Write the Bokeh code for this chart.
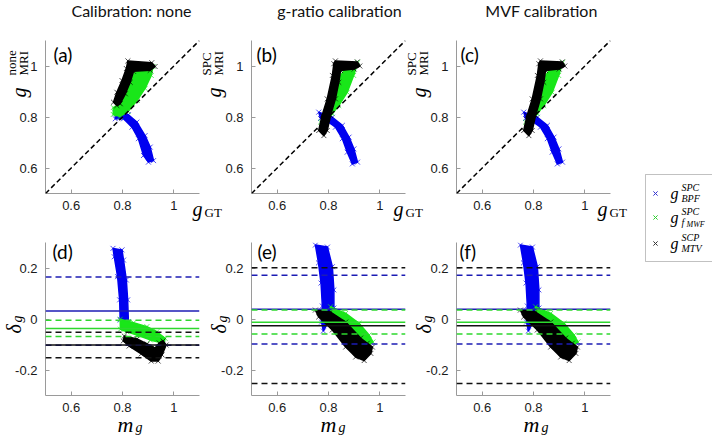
import math
from bokeh.plotting import figure
from bokeh.models import (Range1d, FixedTicker, PrintfTickFormatter, Label, Span,
                          Slope, BoxAnnotation)
from bokeh.layouts import row, column
from bokeh.embed import file_html
from bokeh.resources import INLINE

# ------------------------------------------------------------------ data
titles = ["Calibration: none", "g-ratio calibration", "MVF calibration"]
tags_top = ["(a)", "(b)", "(c)"]
tags_bottom = ["(d)", "(e)", "(f)"]
y_label_sup = ["none", "SPC", "SPC"]
x_range = (0.5, 1.1)
y_range_top = (0.5, 1.1)
y_range_bottom = (-0.3, 0.3)
x_ticks = [0.6, 0.8, 1.0]
x_tick_labels = ["0.6", "0.8", "1"]
y_ticks_top = [0.6, 0.8, 1.0]
y_tick_labels_top = ["0.6", "0.8", "1"]
y_ticks_bottom = [-0.2, 0.0, 0.2]
y_tick_labels_bottom = ["-0.2", "0", "0.2"]

# outlines of the marker clouds (g_GT, g_MRI) for the top row
a_blue_x = [0.772, 0.823, 0.856, 0.888, 0.908, 0.921, 0.901, 0.882, 0.862, 0.837, 0.804, 0.772]
a_blue_y = [0.816, 0.809, 0.780, 0.727, 0.682, 0.629, 0.623, 0.649, 0.715, 0.760, 0.793, 0.793]
a_green_x = [0.764, 0.791, 0.811, 0.830, 0.846, 0.908, 0.919, 0.912, 0.888, 0.857, 0.822, 0.791, 0.764]
a_green_y = [0.837, 0.849, 0.884, 0.931, 0.975, 0.990, 0.998, 0.963, 0.912, 0.865, 0.822, 0.802, 0.810]
a_black_x = [0.821, 0.914, 0.927, 0.908, 0.843, 0.830, 0.811, 0.791, 0.778, 0.765, 0.778, 0.798, 0.815]
a_black_y = [1.020, 1.013, 0.998, 0.983, 0.979, 0.936, 0.891, 0.852, 0.845, 0.858, 0.897, 0.943, 0.990]

b_blue_x = [0.762, 0.815, 0.854, 0.880, 0.899, 0.913, 0.893, 0.873, 0.854, 0.827, 0.801, 0.769]
b_blue_y = [0.819, 0.799, 0.767, 0.721, 0.675, 0.623, 0.616, 0.662, 0.715, 0.760, 0.780, 0.794]
b_green_x = [0.769, 0.808, 0.831, 0.847, 0.867, 0.914, 0.898, 0.873, 0.840, 0.815, 0.788]
b_green_y = [0.780, 0.818, 0.884, 0.963, 0.990, 1.014, 0.963, 0.897, 0.845, 0.813, 0.780]
b_black_x = [0.827, 0.912, 0.922, 0.900, 0.847, 0.840, 0.827, 0.808, 0.795, 0.782, 0.762, 0.775, 0.795, 0.815, 0.821]
b_black_y = [1.020, 1.016, 1.000, 0.988, 0.982, 0.936, 0.871, 0.806, 0.747, 0.727, 0.747, 0.806, 0.871, 0.963, 1.009]

c_blue_x = [0.762, 0.815, 0.854, 0.880, 0.899, 0.913, 0.893, 0.873, 0.854, 0.827, 0.801, 0.769]
c_blue_y = [0.819, 0.799, 0.767, 0.721, 0.675, 0.623, 0.616, 0.662, 0.715, 0.760, 0.780, 0.794]
c_green_x = [0.769, 0.808, 0.831, 0.847, 0.867, 0.914, 0.898, 0.873, 0.840, 0.815, 0.788]
c_green_y = [0.780, 0.818, 0.884, 0.963, 0.990, 1.014, 0.963, 0.897, 0.845, 0.813, 0.780]
c_black_x = [0.827, 0.912, 0.922, 0.900, 0.847, 0.840, 0.827, 0.808, 0.795, 0.782, 0.762, 0.775, 0.795, 0.815, 0.821]
c_black_y = [1.020, 1.016, 1.000, 0.988, 0.982, 0.936, 0.871, 0.806, 0.747, 0.727, 0.747, 0.806, 0.871, 0.963, 1.009]

# outlines of the marker clouds (m_g, delta_g) for the bottom row
d_blue_x = [0.763, 0.798, 0.804, 0.815, 0.820, 0.823, 0.791, 0.789, 0.781, 0.768]
d_blue_y = [0.277, 0.271, 0.231, 0.153, 0.075, -0.011, -0.004, 0.075, 0.166, 0.244]
d_green_x = [0.791, 0.843, 0.895, 0.934, 0.966, 0.959, 0.908, 0.856, 0.817, 0.792]
d_green_y = [-0.001, -0.015, -0.030, -0.050, -0.076, -0.095, -0.082, -0.063, -0.050, -0.040]
d_black_x = [0.807, 0.857, 0.896, 0.927, 0.943, 0.958, 0.970, 0.954, 0.939, 0.912, 0.873, 0.826, 0.803]
d_black_y = [-0.067, -0.078, -0.098, -0.114, -0.094, -0.086, -0.102, -0.141, -0.165, -0.165, -0.137, -0.106, -0.086]

e_blue_x = [0.749, 0.796, 0.815, 0.821, 0.821, 0.808, 0.780, 0.773, 0.776, 0.771, 0.761]
e_blue_y = [0.290, 0.282, 0.205, 0.114, 0.043, 0.004, -0.047, -0.012, 0.051, 0.141, 0.220]
e_green_x = [0.808, 0.867, 0.919, 0.958, 0.973, 0.952, 0.906, 0.854, 0.815]
e_green_y = [0.048, 0.022, -0.017, -0.063, -0.090, -0.106, -0.069, -0.036, -0.011]
e_black_x = [0.749, 0.808, 0.867, 0.925, 0.951, 0.971, 0.965, 0.939, 0.906, 0.867, 0.815, 0.762]
e_black_y = [0.035, 0.027, -0.012, -0.075, -0.095, -0.110, -0.135, -0.163, -0.149, -0.110, -0.043, 0.008]

f_blue_x = [0.749, 0.796, 0.815, 0.821, 0.821, 0.808, 0.780, 0.773, 0.776, 0.771, 0.761]
f_blue_y = [0.290, 0.282, 0.205, 0.114, 0.043, 0.004, -0.047, -0.012, 0.051, 0.141, 0.220]
f_green_x = [0.808, 0.867, 0.919, 0.958, 0.973, 0.952, 0.906, 0.854, 0.815]
f_green_y = [0.048, 0.022, -0.017, -0.063, -0.090, -0.106, -0.069, -0.036, -0.011]
f_black_x = [0.749, 0.808, 0.867, 0.925, 0.951, 0.971, 0.965, 0.939, 0.906, 0.867, 0.815, 0.762]
f_black_y = [0.035, 0.027, -0.012, -0.075, -0.095, -0.110, -0.135, -0.163, -0.149, -0.110, -0.043, 0.008]

# Bland-Altman lines: mean, upper limit, lower limit (blue, green, black)
d_mean = [0.031, -0.037, -0.102]
d_upper = [0.165, -0.005, -0.052]
d_lower = [-0.103, -0.069, -0.152]
e_mean = [0.038, -0.013, -0.026]
e_upper = [0.172, 0.035, 0.201]
e_lower = [-0.098, -0.059, -0.253]
f_mean = [0.038, -0.013, -0.026]
f_upper = [0.172, 0.035, 0.201]
f_lower = [-0.098, -0.059, -0.253]

legend_sup = ["SPC", "SPC", "SCP"]
legend_sub = ["BPF", "f", "MTV"]
legend_subsub = ["", "MWF", ""]

# ------------------------------------------------------------------ style
FW, FH = 154, 153
W, H = 712, 438
CLOUD = ["#0000f0", "#19e619", "#000000"]
LINES = ["#1c1cb4", "#2ed82e", "#111111"]
LEG_MARK = ["#3030d0", "#30d030", "#333333"]
AXIS_GRAY = "#9a9a9a"
SERIF = "Liberation Serif"
SANS_T = "Lato"
DY = -5      # measured baseline correction of horizontal labels
RX, RY = -5, 5   # correction of rotated labels


def make_fig(fl, ft, cl, ct, cr, cb, yr, yticks, ylabels, mleft):
    p = figure(frame_width=FW, frame_height=FH,
               min_border_left=fl - cl, min_border_right=cr - (fl + FW),
               min_border_top=ft - ct, min_border_bottom=cb - (ft + FH),
               x_range=Range1d(*x_range), y_range=Range1d(*yr),
               toolbar_location=None, output_backend="svg",
               background_fill_color=None, border_fill_color=None,
               outline_line_color=None, margin=(0, 0, 0, mleft))
    p.grid.visible = False
    p.xaxis.ticker = FixedTicker(ticks=x_ticks)
    p.yaxis.ticker = FixedTicker(ticks=yticks)
    p.xaxis.major_label_overrides = dict(zip(x_ticks, x_tick_labels))
    p.yaxis.major_label_overrides = dict(zip(yticks, ylabels))
    for ax in (p.xaxis[0], p.yaxis[0]):
        ax.formatter = PrintfTickFormatter(format="%g")
        ax.axis_line_color = AXIS_GRAY
        ax.major_tick_line_color = AXIS_GRAY
        ax.major_tick_in = 4
        ax.major_tick_out = 0
        ax.minor_tick_line_color = None
        ax.major_label_text_font = "Liberation Sans"
        ax.major_label_text_font_size = "13px"
        ax.major_label_text_color = "#1a1a1a"
    p.xaxis.major_label_standoff = 7
    p.yaxis.major_label_standoff = 8
    return p


def clouds(p, xs_list, ys_list):
    for xs, ys, c in zip(xs_list, ys_list, CLOUD):
        p.patch(xs, ys, fill_color=c, line_color=c, line_width=1.5)
        p.scatter(xs, ys, marker="x", size=7, line_color=c, line_width=1, alpha=0.7)


# overlay figure for all free texts and the legend (units = pixels of the page)
ov = figure(frame_width=W, frame_height=H, min_border_left=0, min_border_right=0,
            min_border_top=0, min_border_bottom=0,
            x_range=Range1d(0, W), y_range=Range1d(H, 0),
            x_axis_location=None, y_axis_location=None,
            toolbar_location=None, output_backend="svg",
            background_fill_color=None, border_fill_color=None,
            outline_line_color=None, margin=(-436, 0, 0, 0))
ov.grid.visible = False


def put(px, py, text, size, font=SERIF, style="italic", rot=False,
        align="left", color="#000000"):
    if rot:
        x, y, ang = px + RX, py + RY, math.pi / 2
    else:
        x, y, ang = px, py + DY, 0.0
    ov.add_layout(Label(x=x, y=y, text=text, text_font=font,
                        text_font_size=f"{size}px", text_font_style=style,
                        angle=ang, text_align=align, text_baseline="alphabetic",
                        text_color=color))


frame_left = [45, 251, 456]
canvas_l = [0, 198, 403]
canvas_r = [223, 425, 629]
mlefts = [0, -25, -22]

top_data = [
    ([a_blue_x, a_green_x, a_black_x], [a_blue_y, a_green_y, a_black_y]),
    ([b_blue_x, b_green_x, b_black_x], [b_blue_y, b_green_y, b_black_y]),
    ([c_blue_x, c_green_x, c_black_x], [c_blue_y, c_green_y, c_black_y]),
]
bottom_data = [
    ([d_blue_x, d_green_x, d_black_x], [d_blue_y, d_green_y, d_black_y], d_mean, d_upper, d_lower),
    ([e_blue_x, e_green_x, e_black_x], [e_blue_y, e_green_y, e_black_y], e_mean, e_upper, e_lower),
    ([f_blue_x, f_green_x, f_black_x], [f_blue_y, f_green_y, f_black_y], f_mean, f_upper, f_lower),
]

title_cx = [131, 339, 541]
tag_top_x = [53, 256, 460]
tag_bot_x = [52, 257, 459]
ylab_top_L = [9, 204, 409]
gt_x = [192, 393, 597]
mg_x = [117, 320, 523]
delta_x = [18, 223, 428]

top_figs, bot_figs = [], []
for i in range(3):
    fl = frame_left[i]
    p = make_fig(fl, 40, canvas_l[i], 0, canvas_r[i], 218, y_range_top,
                 y_ticks_top, y_tick_labels_top, mlefts[i])
    clouds(p, *top_data[i])
    p.add_layout(Slope(gradient=1, y_intercept=0, line_color="#000000",
                       line_dash="5 3", line_width=1.5))
    top_figs.append(p)

    p = make_fig(fl, 242, canvas_l[i], 218, canvas_r[i], 436, y_range_bottom,
                 y_ticks_bottom, y_tick_labels_bottom, mlefts[i])
    xs, ys, mean, up, lo = bottom_data[i]
    clouds(p, xs, ys)
    for k in range(3):
        p.add_layout(Span(location=up[k], dimension="width", line_color=LINES[k],
                          line_dash="6 4", line_width=1.5))
        p.add_layout(Span(location=lo[k], dimension="width", line_color=LINES[k],
                          line_dash="6 4", line_width=1.5))
        p.add_layout(Span(location=mean[k], dimension="width", line_color=LINES[k],
                          line_width=1.5))
    bot_figs.append(p)

    # texts of this column
    put(title_cx[i], 15, titles[i], 16, font=SANS_T, style="normal",
        align="center", color="#111111")
    put(tag_top_x[i], 59, tags_top[i], 19, font=SANS_T, style="normal")
    put(tag_bot_x[i], 256, tags_bottom[i], 19, font=SANS_T, style="normal")
    put(gt_x[i], 213, "g", 20)
    put(gt_x[i] + 12, 217, "GT", 13, style="normal")
    L = ylab_top_L[i]
    put(L + 14, 92, "g", 20, rot=True)
    put(L + 7, 70, y_label_sup[i], 13, style="normal", rot=True)
    put(L + 19, 70, "MRI", 13, style="normal", rot=True)
    put(mg_x[i], 429, "m", 22)
    put(mg_x[i] + 18, 432, "g", 14)
    put(delta_x[i], 328, "\u03b4", 20, rot=True)
    put(delta_x[i] + 4, 317, "g", 14, rot=True)

# legend
ov.add_layout(BoxAnnotation(left=645, right=730, top=174, bottom=261,
                            fill_color=None, line_color="#333333", line_width=1))
row_y = [193, 217, 243]
ov.scatter([655, 655, 655], row_y, marker="x", size=6, line_width=1, line_color=LEG_MARK)
for k in range(3):
    yk = row_y[k]
    put(670, yk + 5, "g", 16)
    put(681, yk - 1, legend_sup[k], 10)
    put(681, yk + 10, legend_sub[k], 10)
    if legend_subsub[k]:
        put(686, yk + 12, legend_subsub[k], 8)

layout = column(column(row(*top_figs), row(*bot_figs)), ov)
open("out.html", "w").write(file_html(layout, INLINE))
